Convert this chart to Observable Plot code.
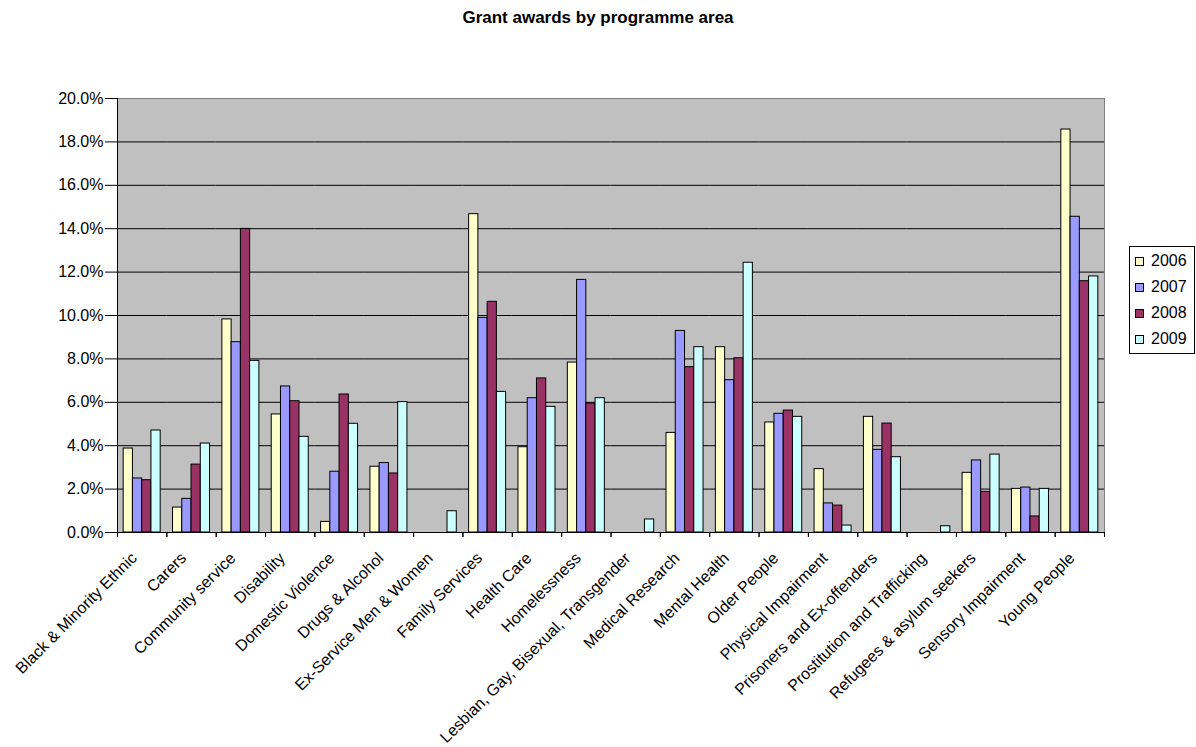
<!DOCTYPE html>
<html>
<head>
<meta charset="utf-8">
<script src="https://cdn.jsdelivr.net/npm/d3@7"></script>
<script src="https://cdn.jsdelivr.net/npm/@observablehq/plot@0.6"></script>
<style>
  body { margin: 0; background: #fff; font-family: Arial, "Liberation Sans", sans-serif; }
  #wrap { position: relative; width: 1196px; height: 747px; overflow: hidden; }
  #title { height: 36px; line-height: 36px; text-align: center; font-weight: bold; font-size: 17px; color: #000; }
  #legend { position: absolute; left: 1129px; top: 246px; width: 64px; border: 1px solid #000; background: #fff; padding: 1px 0; }
  .row { height: 26px; display: flex; align-items: center; font-size: 16px; color: #000; }
  .sw { width: 7px; height: 7px; border: 1px solid #000; margin-left: 5px; margin-right: 7px; flex: none; }
</style>
</head>
<body>
<div id="wrap">
  <div id="title">Grant awards by programme area</div>
  <div id="chart"></div>
  <div id="legend"></div>
</div>
<script>
const categories = [
  "Black & Minority Ethnic", "Carers", "Community service", "Disability", "Domestic Violence",
  "Drugs & Alcohol", "Ex-Service Men & Women", "Family Services", "Health Care", "Homelessness",
  "Lesbian, Gay, Bisexual, Transgender", "Medical Research", "Mental Health", "Older People",
  "Physical Impairment", "Prisoners and Ex-offenders", "Prostitution and Trafficking",
  "Refugees & asylum seekers", "Sensory Impairment", "Young People"
];
const years = ["2006", "2007", "2008", "2009"];
const v2006 = [3.87, 1.15, 9.82, 5.44, 0.49, 3.03, 0, 14.67, 3.93, 7.83, 0, 4.59, 8.54, 5.07, 2.92, 5.33, 0, 2.75, 2.01, 18.57];
const v2007 = [2.49, 1.55, 8.77, 6.73, 2.80, 3.20, 0, 9.89, 6.19, 11.64, 0, 9.29, 7.02, 5.47, 1.34, 3.81, 0, 3.32, 2.07, 14.55];
const v2008 = [2.41, 3.13, 13.99, 6.05, 6.36, 2.72, 0, 10.63, 7.10, 5.94, 0, 7.62, 8.03, 5.62, 1.24, 5.02, 0, 1.87, 0.74, 11.58];
const v2009 = [4.70, 4.10, 7.91, 4.41, 5.01, 6.01, 0.98, 6.48, 5.79, 6.19, 0.60, 8.54, 12.43, 5.33, 0.32, 3.47, 0.29, 3.59, 2.01, 11.80];
const yTicks = [0, 2, 4, 6, 8, 10, 12, 14, 16, 18, 20];
const colors = ["#ffffcc", "#9999ff", "#993366", "#ccffff"];

const series = [v2006, v2007, v2008, v2009];
const data = categories.flatMap((c, i) =>
  years.map((y, k) => ({category: c, year: y, value: series[k][i]}))
);

const W = 1196, H = 711, ML = 117, MR = 92, MT = 62, MB = 215;
const step = (W - ML - MR) / categories.length;

const chart = Plot.plot({
  width: W, height: H,
  marginLeft: ML, marginRight: MR, marginTop: MT, marginBottom: MB,
  style: {fontFamily: "Arial, 'Liberation Sans', sans-serif", fontSize: "16px", color: "#000", background: "#fff", overflow: "visible"},
  fx: {domain: categories, padding: 0, round: false, label: null},
  x: {domain: years, paddingInner: 0, paddingOuter: 0.667, round: false, axis: null},
  y: {domain: [0, 20], label: null},
  color: {domain: years, range: colors},
  marks: [
    Plot.frame({fill: "#c0c0c0", facet: "super"}),
    Plot.ruleY(yTicks.slice(1, -1), {stroke: "#000", strokeWidth: 1}),
    Plot.frame({stroke: "#808080", facet: "super"}),
    Plot.barY(data, {fx: "category", x: "year", y: "value", fill: "year", stroke: "#000", strokeWidth: 1}),
    Plot.frame({anchor: "left", stroke: "#000", facet: "super"}),
    Plot.frame({anchor: "bottom", stroke: "#000", facet: "super"}),
    Plot.axisY({ticks: yTicks, tickFormat: d => d.toFixed(1) + "%", tickSize: 12, tickPadding: 2, label: null, facetAnchor: "left", fontSize: 16}),
    Plot.axisFx({anchor: "bottom", tickRotate: -45, tickSize: 0, tickPadding: 23, dx: -8, label: null, fontSize: 16}),
    Plot.axisFx({anchor: "bottom", tickSize: 5, tickFormat: () => "", dx: -step / 2, label: null}),
    Plot.axisFx([categories[categories.length - 1]], {anchor: "bottom", tickSize: 5, tickFormat: () => "", dx: step / 2, label: null})
  ]
});
document.getElementById("chart").appendChild(chart);

const legend = document.getElementById("legend");
years.forEach((y, k) => {
  const row = document.createElement("div");
  row.className = "row";
  const sw = document.createElement("span");
  sw.className = "sw";
  sw.style.background = colors[k];
  const t = document.createElement("span");
  t.textContent = y;
  row.appendChild(sw);
  row.appendChild(t);
  legend.appendChild(row);
});
</script>
</body>
</html>
